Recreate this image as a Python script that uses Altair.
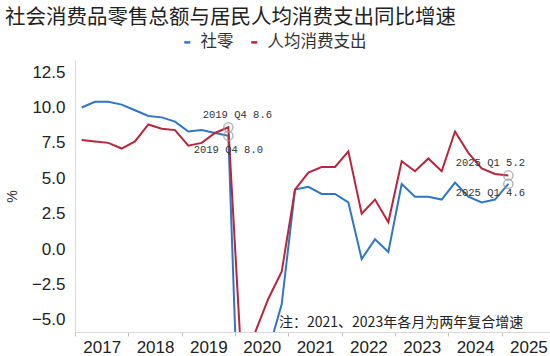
import altair as alt
import pandas as pd

# ---------------- data ----------------
quarters = [
    "2017Q1", "2017Q2", "2017Q3", "2017Q4",
    "2018Q1", "2018Q2", "2018Q3", "2018Q4",
    "2019Q1", "2019Q2", "2019Q3", "2019Q4",
    "2020Q1", "2020Q2", "2020Q3", "2020Q4",
    "2021Q1", "2021Q2", "2021Q3", "2021Q4",
    "2022Q1", "2022Q2", "2022Q3", "2022Q4",
    "2023Q1", "2023Q2", "2023Q3", "2023Q4",
    "2024Q1", "2024Q2", "2024Q3", "2024Q4",
    "2025Q1",
]
retail = [
    10.0, 10.4, 10.4, 10.2,
    9.8, 9.4, 9.3, 9.0,
    8.3, 8.4, 8.2, 8.0,
    -19.0, -11.4, -7.2, -3.9,
    4.2, 4.4, 3.9, 3.9,
    3.3, -0.7, 0.7, -0.2,
    4.6, 3.7, 3.7, 3.5,
    4.7, 3.7, 3.3, 3.5,
    4.6,
]
consumption = [
    7.7, 7.6, 7.5, 7.1,
    7.6, 8.8, 8.5, 8.4,
    7.3, 7.5, 8.2, 8.6,
    -8.2, -5.9, -3.5, -1.6,
    4.2, 5.4, 5.8, 5.8,
    6.9, 2.5, 3.5, 1.9,
    6.2, 5.5, 6.4, 5.5,
    8.3, 6.8, 5.7, 5.3,
    5.2,
]
series_names = ["社零", "人均消费支出"]
series_colors = ["#2f77c3", "#b8253d"]
year_ticks = [2017, 2018, 2019, 2020, 2021, 2022, 2023, 2024, 2025]
y_ticks = [-5.0, -2.5, 0.0, 2.5, 5.0, 7.5, 10.0, 12.5]
marked_quarters = ["2019Q4", "2025Q1"]
title_text = "社会消费品零售总额与居民人均消费支出同比增速"
note_text = "注：2021、2023年各月为两年复合增速"

CJK = "Noto Sans CJK SC"
SANS = "Liberation Sans"
MONO = "Liberation Mono"


def qpos(q):
    return int(q[:4]) + (int(q[-1]) - 0.5) / 4


rows = []
for q, a, b in zip(quarters, retail, consumption):
    for name, v in zip(series_names, (a, b)):
        rows.append({
            "q": q,
            "x": qpos(q),
            "series": name,
            "v": v,
            "label": f"{q[:4]} Q{q[-1]} {v:.1f}",
        })
df = pd.DataFrame(rows)

x_enc = alt.X(
    "x:Q",
    scale=alt.Scale(domain=[2017, 2025.906], nice=False, zero=False),
    axis=alt.Axis(
        values=year_ticks, format="d", title=None, grid=False,
        labelOffset=26.7, labelFont=SANS, labelFontSize=17, labelColor="#222",
        labelOverlap=False, labelFlush=False, labelPadding=3,
        domainColor="#d9d9d9", tickColor="#bfbfbf", tickSize=4,
    ),
)
y_enc = alt.Y(
    "v:Q",
    scale=alt.Scale(domain=[-5.85, 13.35], nice=False, zero=False),
    axis=alt.Axis(
        values=y_ticks, format=".1f", title="%", grid=False, ticks=False,
        labelFont=SANS, labelFontSize=17, labelColor="#222", labelPadding=10,
        labelOverlap=False, labelFlush=False,
        titleFont=SANS, titleFontSize=14, titleFontWeight="normal",
        titleColor="#333", titlePadding=12,
        domainColor="#d9d9d9",
    ),
)

color_enc = alt.Color(
    "series:N",
    scale=alt.Scale(domain=series_names, range=series_colors),
    legend=alt.Legend(
        orient="none", legendX=104, legendY=-26, direction="horizontal",
        title=None, symbolType="stroke", symbolStrokeWidth=2.5, symbolSize=36,
        labelFont=CJK, labelFontSize=16.5, labelColor="#333", labelOffset=5,
        columnPadding=12,
    ),
)

base = alt.Chart(df)

lines = base.mark_line(strokeWidth=2, clip=True).encode(
    x=x_enc, y=y_enc, color=color_enc, order="x:Q"
)

marked = base.transform_filter(
    alt.FieldOneOfPredicate(field="q", oneOf=marked_quarters)
)

circles = marked.mark_point(
    shape="circle", filled=False, size=85, stroke="#9a9a9a", strokeWidth=1.5
).encode(x=x_enc, y=y_enc)


def label_layer(q, series, dx, dy):
    return base.transform_filter(
        (alt.datum.q == q) & (alt.datum.series == series)
    ).mark_text(
        font=MONO, fontSize=10.5, color="#333", dx=dx, dy=dy,
        align="center", baseline="middle",
    ).encode(x=x_enc, y=y_enc, text="label:N")


labels = [
    label_layer("2019Q4", "人均消费支出", 9, -12),
    label_layer("2019Q4", "社零", 0, 14),
    label_layer("2025Q1", "人均消费支出", -18, -12),
    label_layer("2025Q1", "社零", -18, 9.5),
]

title = alt.Chart(pd.DataFrame({"t": [title_text]})).mark_text(
    font=CJK, fontSize=20.5, color="#222", align="left", baseline="middle"
).encode(x=alt.value(-70), y=alt.value(-42), text="t:N")

note = alt.Chart(pd.DataFrame({"t": [note_text]})).mark_text(
    font=CJK, fontSize=14, color="#222", align="left", baseline="middle"
).encode(x=alt.value(204), y=alt.value(262.7), text="t:N")

chart = alt.layer(lines, circles, *labels, title, note).properties(
    width=475,
    height=272,
    padding={"left": 75, "top": 60, "right": 0, "bottom": 24},
    autosize=alt.AutoSizeParams(type="none"),
    background="white",
).configure_view(stroke=None)

chart.save("out.html", embed_options={"renderer": "svg", "actions": False})
